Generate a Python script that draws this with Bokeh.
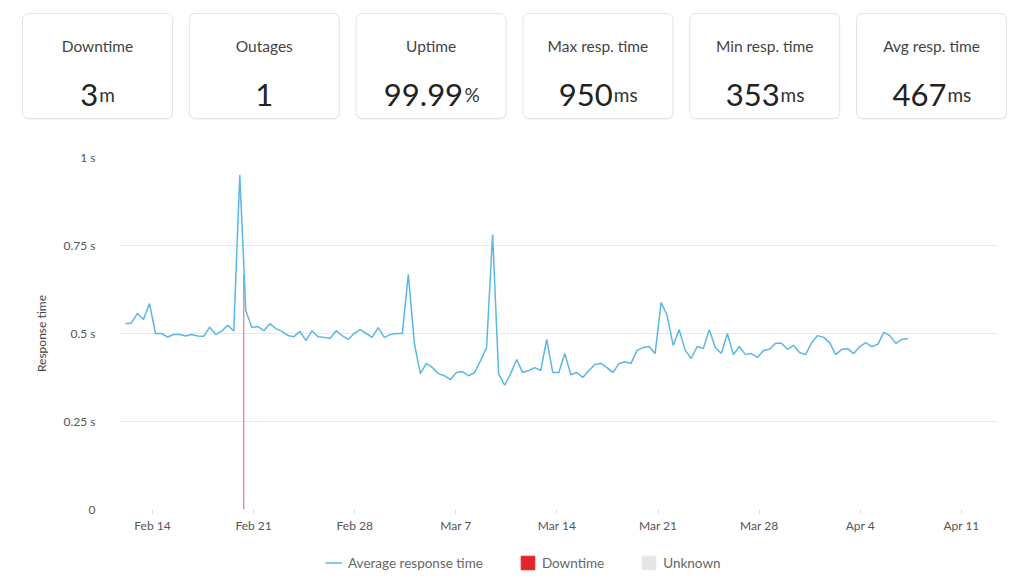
import pandas as pd
from bokeh.plotting import figure
from bokeh.models import Range1d, FixedTicker, Legend, LegendItem, Rect
from bokeh.core.properties import value
from bokeh.embed import file_html
from bokeh.resources import INLINE

# ---------------- data ----------------
card_titles = ["Downtime", "Outages", "Uptime", "Max resp. time", "Min resp. time", "Avg resp. time"]
card_values = ["3", "1", "99.99", "950", "353", "467"]
card_units = ["m", "", "%", "ms", "ms", "ms"]

series_start = "2021-02-12 03:00"
series_step = "10h"
resp_time = [
    0.528, 0.530, 0.557, 0.540, 0.585, 0.500, 0.500, 0.490, 0.497, 0.497,
    0.493, 0.497, 0.493, 0.492, 0.518, 0.497, 0.507, 0.523, 0.507, 0.950,
    0.565, 0.517, 0.520, 0.508, 0.528, 0.514, 0.506, 0.494, 0.491, 0.506,
    0.480, 0.508, 0.491, 0.489, 0.486, 0.508, 0.494, 0.483, 0.500,
    0.511, 0.500, 0.489, 0.517, 0.489, 0.497, 0.500, 0.500, 0.668,
    0.472, 0.386, 0.415, 0.403, 0.386, 0.380, 0.369, 0.389, 0.392, 0.380,
    0.389, 0.423, 0.460, 0.781,
    0.386, 0.353, 0.386, 0.426, 0.389, 0.395, 0.403, 0.395, 0.483, 0.389,
    0.389, 0.443, 0.383, 0.389, 0.375, 0.395, 0.412, 0.415, 0.403, 0.389,
    0.415, 0.420, 0.415, 0.452, 0.460, 0.463, 0.443, 0.588, 0.551, 0.466,
    0.511, 0.452, 0.429, 0.463,
    0.457, 0.511, 0.460, 0.443, 0.500, 0.440, 0.463, 0.440, 0.443, 0.432,
    0.452, 0.455, 0.472, 0.472, 0.455, 0.466, 0.446, 0.440, 0.474, 0.494,
    0.489, 0.474, 0.440, 0.455, 0.457, 0.443, 0.463, 0.474, 0.463, 0.469,
    0.503, 0.494, 0.472, 0.483, 0.486,
]
downtime_start = "2021-02-20 07:30"
downtime_minutes = 3
downtime_top = 0.665

x_tick_dates = ["2021-02-14", "2021-02-21", "2021-02-28", "2021-03-07", "2021-03-14",
                "2021-03-21", "2021-03-28", "2021-04-04", "2021-04-11"]
x_tick_labels = ["Feb 14", "Feb 21", "Feb 28", "Mar 7", "Mar 14", "Mar 21", "Mar 28", "Apr 4", "Apr 11"]
y_ticks = [0, 0.25, 0.5, 0.75, 1]
y_tick_labels = ["0", "0.25 s", "0.5 s", "0.75 s", "1 s"]
legend_labels = ["Average response time", "Downtime", "Unknown"]

x_start = "2021-02-11 15:30"
x_end = "2021-04-13 13:30"

FONT = "Lato"
LINE_COLOR = "#5ab7e6"
DOWN_FILL = "#e3262b"
DOWN_LINE = "#e58a8c"
UNKNOWN = "#e6e6e6"

W = 1024
CARD_H = 135
CHART_H = 404
LEG_H = 583 - CARD_H - CHART_H

# ---------------- stat cards ----------------
cards = figure(width=W, height=CARD_H, x_range=Range1d(0, W), y_range=Range1d(CARD_H, 0),
               x_axis_type=None, y_axis_type=None, toolbar_location=None,
               output_backend="svg", min_border=0, outline_line_color=None)
cards.grid.visible = False

n = len(card_titles)
card_w, pitch, left0 = 150, 166.8, 22
cx = [left0 + card_w / 2 + i * pitch for i in range(n)]
rect_kw = {}
if "border_radius" in Rect.properties():
    rect_kw["border_radius"] = 6
cards.rect(x=[c + 0.5 for c in cx], y=[67] * n, width=card_w, height=105,
           fill_color="#000000", fill_alpha=0.035, line_color=None, **rect_kw)
cards.rect(x=cx, y=[65.5] * n, width=card_w, height=105,
           fill_color="white", line_color="#e3e3e3", line_width=1, **rect_kw)
cards.text(x=cx, y=[45] * n, text=card_titles, text_align="center", text_baseline="middle",
           text_font=value(FONT), text_font_size=value("15.5px"), text_color="#444444")

NUM_PX, UNIT_PX = 31, 19
adv = {"d": 0.58, ".": 0.25, "m": 0.86, "s": 0.41, "%": 0.78}


def width_of(s, px):
    return sum(adv["d"] if ch.isdigit() else adv.get(ch, 0.55) for ch in s) * px


num_x, unit_x = [], []
for c, v, u in zip(cx, card_values, card_units):
    wn, wu = width_of(v, NUM_PX), width_of(u, UNIT_PX)
    left = c - (wn + wu) / 2
    num_x.append(left)
    unit_x.append(left + wn + 1)
cards.text(x=num_x, y=[94] * n, text=card_values, text_align="left", text_baseline="alphabetic",
           text_font=value(FONT), text_font_size=value(f"{NUM_PX}px"), text_color="#222222")
cards.text(x=unit_x, y=[94] * n, text=card_units, text_align="left", text_baseline="alphabetic",
           text_font=value(FONT), text_font_size=value(f"{UNIT_PX}px"), text_color="#333333")

# ---------------- chart ----------------
times = pd.date_range(start=series_start, periods=len(resp_time), freq=series_step)
d0 = pd.Timestamp(downtime_start)
d1 = d0 + pd.Timedelta(minutes=downtime_minutes)

p = figure(width=W, height=CHART_H, x_axis_type="datetime",
           x_range=Range1d(pd.Timestamp(x_start), pd.Timestamp(x_end)), y_range=Range1d(0, 1),
           toolbar_location=None, output_backend="svg",
           min_border_left=118, min_border_right=26, min_border_top=22, min_border_bottom=30)
p.outline_line_color = None
p.xgrid.visible = False
p.ygrid.grid_line_color = "#e9e9e9"
p.ygrid.grid_line_width = 1

p.quad(left=[d0], right=[d1], bottom=[0], top=[downtime_top],
       fill_color=DOWN_FILL, line_color=DOWN_LINE, line_width=1.3)
p.line(x=times, y=resp_time, line_color=LINE_COLOR, line_width=1.5)

tick_ms = [int(pd.Timestamp(d).value // 10**6) for d in x_tick_dates]
p.xaxis.ticker = FixedTicker(ticks=tick_ms)
p.xaxis.major_label_overrides = dict(zip(tick_ms, x_tick_labels))
p.yaxis.ticker = FixedTicker(ticks=y_ticks)
p.yaxis.major_label_overrides = dict(zip(y_ticks, y_tick_labels))

p.axis.axis_line_color = None
p.axis.minor_tick_line_color = None
p.axis.major_label_text_font = FONT
p.axis.major_label_text_font_size = "12px"
p.axis.major_label_text_color = "#555555"
p.yaxis.major_tick_line_color = None
p.yaxis.major_label_standoff = 17
p.xaxis.major_tick_line_color = "#dddddd"
p.xaxis.major_tick_in = 0
p.xaxis.major_tick_out = 4
p.xaxis.major_label_standoff = 4

p.yaxis.axis_label = "Response time"
p.yaxis.axis_label_text_font = FONT
p.yaxis.axis_label_text_font_size = "12px"
p.yaxis.axis_label_text_font_style = "normal"
p.yaxis.axis_label_text_color = "#444444"
p.yaxis.axis_label_standoff = 12

# ---------------- legend strip ----------------
lg = figure(width=W, height=LEG_H, x_range=Range1d(0, 1), y_range=Range1d(0, 1),
            x_axis_type=None, y_axis_type=None, toolbar_location=None,
            output_backend="svg", min_border=0, outline_line_color=None)
lg.grid.visible = False
# legend proxies, kept outside the visible range
r_line = lg.line(x=[5, 6], y=[5, 5], line_color=LINE_COLOR, line_width=1.5)
r_down = lg.quad(left=[5], right=[6], bottom=[5], top=[6], fill_color=DOWN_FILL, line_color=DOWN_FILL)
r_unk = lg.quad(left=[5], right=[6], bottom=[5], top=[6], fill_color=UNKNOWN, line_color=UNKNOWN)
legend = Legend(items=[LegendItem(label=lbl, renderers=[r])
                       for lbl, r in zip(legend_labels, [r_line, r_down, r_unk])],
                orientation="horizontal", location=(325, 12),
                label_text_font=FONT, label_text_font_size="13.5px", label_text_color="#666666",
                glyph_width=17, glyph_height=17, label_standoff=6, spacing=36,
                padding=8, margin=0, border_line_color=None, background_fill_alpha=0)
lg.add_layout(legend, "center")

# three separate roots stacked in the page (avoids frame alignment of a column layout)
open("out.html", "w").write(file_html([cards, p, lg], INLINE))
